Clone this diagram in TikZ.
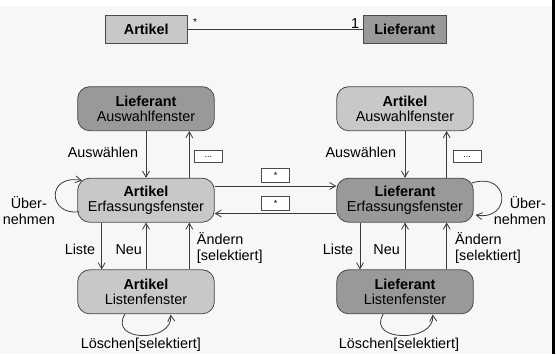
\documentclass[tikz,border=0pt]{standalone}
\usepackage{fontspec}
\setmainfont{Liberation Sans}
\usetikzlibrary{arrows.meta}
\begin{document}
\begin{tikzpicture}[x=1pt,y=-1pt,
  every node/.style={font=\fontsize{14.4}{15.7}\selectfont, inner sep=0pt},
  lightfill/.style={fill=lightgray},
  darkfill/.style={fill=darkgray},
  statebox/.style={draw=boxline, line width=0.8pt, rounded corners=12pt, minimum width=136.6pt, minimum height=44pt, align=center},
  classbox/.style={draw=boxline, line width=0.8pt, minimum width=82.7pt, minimum height=27.6pt, font=\fontsize{14.4}{15.7}\selectfont\bfseries},
  labelbox/.style={draw=boxline, fill=white, line width=0.6pt, minimum width=27.6pt, minimum height=12pt, font=\fontsize{9}{9}\selectfont},
  trans/.style={draw=lineclr, line width=0.8pt, -{Straight Barb[length=6pt,width=7pt]}},
  lbl/.style={text=black}
]
\definecolor{lightgray}{HTML}{C8C8C8}
\definecolor{darkgray}{HTML}{999999}
\definecolor{boxline}{HTML}{4A4A4A}
\definecolor{lineclr}{HTML}{3A3A3A}
\definecolor{bg}{HTML}{F7F7F7}
\useasboundingbox (0,0) rectangle (556,354);
\fill[white] (0,0) rectangle (556,354);
\fill[bg] (0,5.5) rectangle (552,354);
\fill[black] (552,0) rectangle (554.5,354);

% class diagram
\node[classbox, lightfill] (cA) at (146.3,29.5) {Artikel};
\node[classbox, darkfill] (cL) at (404.7,29.5) {Lieferant};
\draw[draw=lineclr, line width=0.8pt] (cA) -- (cL);
\node (mstar) at (195,22) {\fontsize{10}{10}\selectfont *};
\node (mone) at (355,24) {1};

% states left
\node[statebox, darkfill] (LA) at (146,108.7) {\textbf{Lieferant}\\Auswahlfenster};
\node[statebox, lightfill] (AE) at (146,200.2) {\textbf{Artikel}\\Erfassungsfenster};
\node[statebox, lightfill] (AL) at (146,291.8) {\textbf{Artikel}\\Listenfenster};
% states right
\node[statebox, lightfill] (AA) at (405,108.7) {\textbf{Artikel}\\Auswahlfenster};
\node[statebox, darkfill] (LE) at (405,200.2) {\textbf{Lieferant}\\Erfassungsfenster};
\node[statebox, darkfill] (LL) at (405,291.8) {\textbf{Lieferant}\\Listenfenster};

% left column transitions
\draw[trans] (LA.south) -- (AE.north);
\node[lbl] (tAusL) at (103,152.7) {Auswählen};
\draw[trans] ([xshift=43.3pt]AE.north) -- ([xshift=43.3pt]LA.south);
\node[labelbox] (dotsL) at (208.3,156.7) {...};

\draw[trans] ([xshift=-44.3pt]AE.south) -- ([xshift=-44.3pt]AL.north);
\node[lbl] (tListeL) at (80,249.3) {Liste};
\draw[trans] (AL.north) -- (AE.south);
\node[lbl] (tNeuL) at (128.8,249.3) {Neu};
\draw[trans] ([xshift=43.3pt]AL.north) -- ([xshift=43.3pt]AE.south);
\node[lbl, anchor=west, align=left] (tAendL) at (196.7,248.3) {Ändern\\{}[selektiert]};

\draw[trans] (79,211.7) .. controls (48,216) and (46,174) .. (82,180.5);
\node[lbl, align=center] (tUebL) at (28.8,210.8) {Über-\\nehmen};

\draw[trans] (125,314) .. controls (108,342) and (173,343) .. (170.7,314.6);
\node[lbl] (tLoeL) at (140.8,345) {Löschen[selektiert]};

% right column transitions
\draw[trans] (AA.south) -- (LE.north);
\node[lbl] (tAusR) at (360.8,152.7) {Auswählen};
\draw[trans] ([xshift=41.7pt]LE.north) -- ([xshift=41.7pt]AA.south);
\node[labelbox] (dotsR) at (467,156.7) {...};

\draw[trans] ([xshift=-45pt]LE.south) -- ([xshift=-45pt]LL.north);
\node[lbl] (tListeR) at (338,249.3) {Liste};
\draw[trans] (LL.north) -- (LE.south);
\node[lbl] (tNeuR) at (386.7,249.3) {Neu};
\draw[trans] ([xshift=41.7pt]LL.north) -- ([xshift=41.7pt]LE.south);
\node[lbl, anchor=west, align=left] (tAendR) at (455,248.3) {Ändern\\{}[selektiert]};

\draw[trans] (471.7,183) .. controls (510,171) and (512,221) .. (475.5,215);
\node[lbl, anchor=east, align=right] (tUebR) at (546,210.8) {Über-\\nehmen};

\draw[trans] (383.3,314) .. controls (366,342) and (435,343) .. (432.7,314.6);
\node[lbl] (tLoeR) at (399,345) {Löschen[selektiert]};

% between columns
\draw[trans] (AE.east |- 0,186) -- (LE.west |- 0,186);
\draw[trans] (LE.west |- 0,213.5) -- (AE.east |- 0,213.5);
\node[labelbox, minimum height=14pt] (s1) at (275.5,175.3) {*};
\node[labelbox, minimum height=14pt] (s2) at (275.5,203) {*};
\end{tikzpicture}
\end{document}
